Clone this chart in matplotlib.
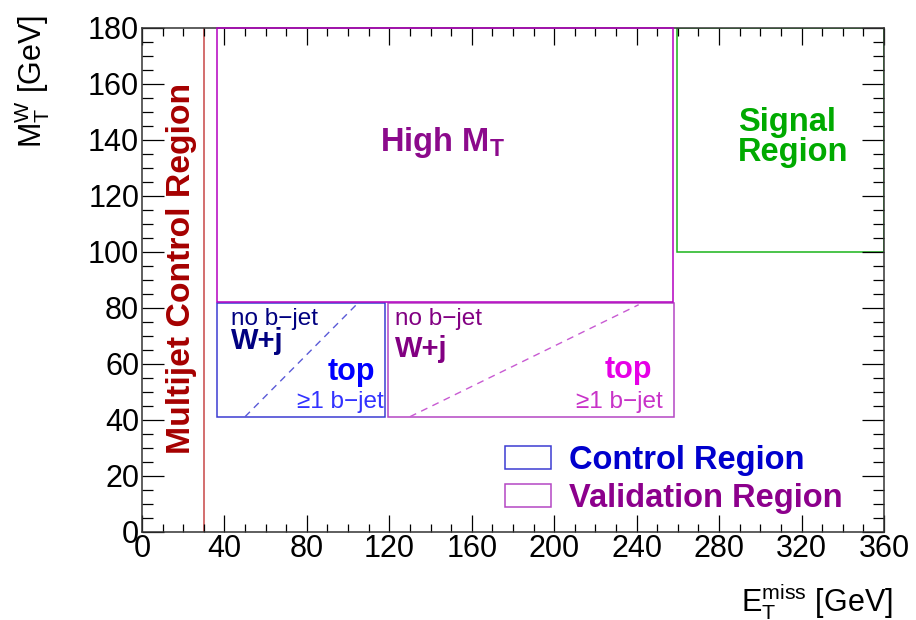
import matplotlib
matplotlib.use("Agg")
import matplotlib.pyplot as plt
from matplotlib.patches import Rectangle, Patch
from matplotlib.ticker import MultipleLocator

plt.rcParams["font.family"] = ["Liberation Sans", "DejaVu Sans"]
plt.rcParams["mathtext.fontset"] = "custom"
plt.rcParams["mathtext.rm"] = "Liberation Sans"
plt.rcParams["mathtext.it"] = "Liberation Sans"
plt.rcParams["mathtext.bf"] = "Liberation Sans:bold"

# region boundaries in (MET, mT) [GeV]
x_range = [0, 360]
y_range = [0, 180]
multijet_cut = 30
high_mt_x = [36.5, 257.5]
high_mt_y = [82, 180]
signal_x = [259.5, 360]
signal_y = [100, 180]
cr_x = [36.5, 118]
cr_y = [41, 81.5]
vr_x = [119.5, 258]
vr_y = [41, 81.5]
# dashed split between W+jets and top inside CR/VR
cr_split_x = [50, 104]
cr_split_y = [41, 81]
vr_split_x = [130, 241]
vr_split_y = [41, 81]

fig = plt.figure(figsize=(9.16, 6.2), dpi=100)
ax = fig.add_axes([0.155, 0.1427, 0.81, 0.8129])
ax.set_xlim(x_range)
ax.set_ylim(y_range)


def box(xs, ys, color, lw=1.1, **kw):
    r = Rectangle((xs[0], ys[0]), xs[1] - xs[0], ys[1] - ys[0],
                  fill=False, edgecolor=color, linewidth=lw, **kw)
    ax.add_patch(r)


ax.axvline(multijet_cut, color="#c84646", lw=1.1, zorder=1)
box(high_mt_x, high_mt_y, "#b400c0", clip_on=False, zorder=3)
box(signal_x, signal_y, "#1ab41a")
box(cr_x, cr_y, "#3c3cd2")
box(vr_x, vr_y, "#b446c3")
ax.plot(cr_split_x, cr_split_y, color="#5a5ad7", lw=1.0, ls=(0, (5, 4)))
ax.plot(vr_split_x, vr_split_y, color="#c85ad2", lw=1.0, ls=(0, (5, 4)))

ax.text(19.0, 94, "Multijet Control Region", rotation=90, ha="center", va="center",
        fontsize=24.3, fontweight="bold", color="#a50000")
ax.text(115.5, 136, r"High $\mathbf{M_T}$", ha="left", va="baseline",
        fontsize=23.5, fontweight="bold", color="#8c0a8c")
ax.text(289, 132.5, "Signal\nRegion", ha="left", va="baseline", linespacing=0.95,
        fontsize=23.5, fontweight="bold", color="#00aa00")

# control region labels
ax.text(43, 73.6, "no b\u2212jet", fontsize=17.5, color="#000080", va="baseline")
ax.text(43, 65.3, "W+j", fontsize=21, fontweight="bold", color="#000080", va="baseline")
ax.text(113, 54, "top", fontsize=22, fontweight="bold", color="#0000ff",
        ha="right", va="baseline")
ax.text(75, 44, "\u22651 b\u2212jet", fontsize=17.5, color="#3232ff", va="baseline")

# validation region labels
ax.text(122.8, 73.6, "no b\u2212jet", fontsize=17.5, color="#820082", va="baseline")
ax.text(122.8, 62.5, "W+j", fontsize=21, fontweight="bold", color="#820082", va="baseline")
ax.text(247.7, 55, "top", fontsize=22, fontweight="bold", color="#e600e6",
        ha="right", va="baseline")
ax.text(252.6, 44, "\u22651 b\u2212jet", fontsize=17.5, color="#c832c8",
        ha="right", va="baseline")

handles = [Patch(facecolor="white", edgecolor="#3c3cd2", lw=1.1, label="Control Region"),
           Patch(facecolor="white", edgecolor="#b446c3", lw=1.1, label="Validation Region")]
leg = ax.legend(handles=handles, loc="upper left", bbox_to_anchor=(0.489, 0.171),
                frameon=False, fontsize=23.5, handlelength=1.41, handleheight=0.7,
                handletextpad=0.56, labelspacing=0.19, borderpad=0, borderaxespad=0)
for t, c in zip(leg.get_texts(), ["#0000cd", "#8c008c"]):
    t.set_color(c)
    t.set_fontweight("bold")

ax.xaxis.set_major_locator(MultipleLocator(40))
ax.xaxis.set_minor_locator(MultipleLocator(10))
ax.yaxis.set_major_locator(MultipleLocator(20))
ax.yaxis.set_minor_locator(MultipleLocator(5))
ax.tick_params(which="both", direction="in", top=True, right=True, width=0.9,
               labelsize=22)
ax.tick_params(axis="x", which="major", length=12, pad=2)
ax.tick_params(axis="x", which="minor", length=5.8)
ax.tick_params(axis="y", which="major", length=16, pad=2)
ax.tick_params(axis="y", which="minor", length=8)
for s in ax.spines.values():
    s.set_linewidth(1.1)
    s.set_color("#333333")

ax.set_xlabel(r"$\mathrm{E_T^{miss}}$ [GeV]", fontsize=22, loc="right")
ax.xaxis.set_label_coords(1.012, -0.1)
ax.xaxis.label.set_va("top")
ax.set_ylabel(r"$\mathrm{M_T^W}$ [GeV]", fontsize=22, loc="top")
ax.yaxis.set_label_coords(-0.121, 1.025)

fig.savefig("out.png", dpi=100)
